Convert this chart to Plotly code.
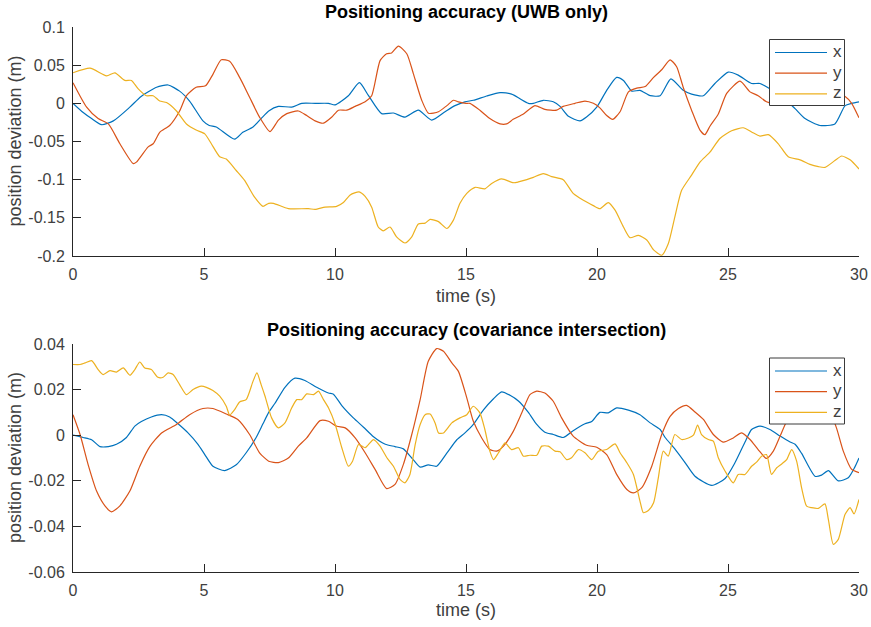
import plotly.graph_objects as go

# ---------------- Top panel: UWB only ----------------
t_x1 = [0, 0.39, 0.71, 1.09, 1.54, 2.17, 2.6, 3.19, 3.63, 4.07, 4.45, 4.96, 5.2, 5.47, 6.17, 6.48, 6.87, 7.18, 7.47,
        7.84, 8.35, 8.73, 9.24, 9.75, 10.0, 10.51, 10.93, 11.28, 11.78, 12.23, 12.67, 13.18, 13.69, 14.2, 14.58, 14.96,
        15.28, 15.79, 16.3, 16.74, 17.06, 17.38, 17.57, 17.95, 18.33, 18.59, 18.91, 19.35, 19.6, 19.99, 20.37, 20.75,
        21.01, 21.33, 21.64, 22.03, 22.41, 22.82, 23.29, 23.61, 24.06, 24.5, 25.01, 25.39, 25.9, 26.22, 26.6, 27.1,
        27.56, 27.94, 28.51, 29.08, 29.47, 29.72, 30.0]
v_x1 = [0, -0.012, -0.02, -0.028, -0.023, -0.005, 0.009, 0.021, 0.024, 0.016, 0.003, -0.023, -0.029, -0.031, -0.047,
        -0.038, -0.031, -0.02, -0.01,
        -0.004, -0.005, 0.0, 0.0, 0.0, -0.002, 0.010, 0.027, 0.010, -0.0135, -0.0127, -0.018, -0.009, -0.022, -0.011,
        -0.003, 0.002,
        0.004, 0.0096, 0.014, 0.012, 0.006, 0.0, 0.0, 0.004, 0.002, -0.004, -0.017, -0.023, -0.018, -0.005, 0.017, 0.034,
        0.030, 0.016, 0.017, 0.010, 0.010, 0.032, 0.017, 0.012, 0.010, 0.026, 0.041, 0.037, 0.026, 0.026, 0.019, 0.008,
        -0.007, -0.020, -0.029, -0.027, -0.003, 0.0, 0.002]

t_y1 = [0, 0.52, 0.96, 1.35, 1.79, 2.3, 2.42, 2.87, 3.06, 3.31, 3.69, 4.07, 4.33, 4.7, 5.06, 5.34, 5.66, 5.98, 6.36,
        6.74, 7.12, 7.52, 7.84, 8.16, 8.6, 8.92, 9.24, 9.56, 9.88, 10.13, 10.45, 10.77, 11.15, 11.4, 11.72, 11.97,
        12.16, 12.42, 12.74, 12.99, 13.31, 13.57, 13.95, 14.27, 14.52, 14.71, 15.0, 15.15, 15.53, 15.91, 16.3, 16.55,
        16.8, 17.19, 17.63, 18.01, 18.46, 18.71, 19.16, 19.54, 19.86, 20.11, 20.37, 20.6, 20.88, 21.2, 21.52, 21.84,
        22.16, 22.47, 22.79, 23.04, 23.29, 23.61, 23.93, 24.12, 24.31, 24.63, 24.95, 25.46, 25.84, 26.15, 26.47,
        27.0, 27.6, 28.2, 28.8, 29.2, 29.47, 29.72, 30.0]
v_y1 = [0.027, -0.005, -0.020, -0.027, -0.053, -0.079, -0.077, -0.057, -0.053, -0.038, -0.029, -0.010, 0.010, 0.021,
        0.023, 0.038, 0.057, 0.055, 0.034, 0.008, -0.018, -0.037, -0.022, -0.0135, -0.010, -0.016, -0.023, -0.026,
        -0.018, -0.009, -0.009, -0.004, 0.002, 0.010, 0.056, 0.065, 0.066, 0.075, 0.065, 0.039, 0.004, -0.013, -0.011,
        -0.003, 0.004, 0.002, 0.0, 0.0, -0.009, -0.020, -0.027, -0.027, -0.021, -0.014, -0.003, -0.008, -0.009, -0.004,
        0.0, 0.003, 0.0, -0.006, -0.016, -0.021, -0.011, 0.015, 0.020, 0.022, 0.034, 0.044, 0.057, 0.048, 0.021,
        -0.009, -0.035, -0.041, -0.030, -0.014, 0.013, 0.029, 0.015, 0.010, 0.002,
        -0.002, 0.001, 0.006, 0.010, 0.012, 0.009, 0.0, -0.019]

t_z1 = [0, 0.65, 1.28, 1.6, 1.98, 2.23, 2.49, 2.8, 3.06, 3.31, 3.57, 3.95, 4.33, 4.7, 5.03, 5.28, 5.6, 5.85, 6.23,
        6.55, 6.93, 7.25, 7.47, 7.65, 8.22, 8.98, 9.24, 9.62, 10.06, 10.32, 10.58, 10.92, 11.15, 11.4, 11.65, 11.84,
        12.1, 12.35, 12.67, 12.93, 13.18, 13.44, 13.63, 13.95, 14.27, 14.52, 14.77, 15.03, 15.35, 15.72, 15.98, 16.36,
        16.81, 17.0, 17.32, 17.57, 17.95, 18.27, 18.71, 19.09, 19.48, 19.86, 20.11, 20.43, 20.69, 21.01, 21.26, 21.58,
        21.9, 22.16, 22.47, 22.72, 22.97, 23.23, 23.61, 23.93, 24.31, 24.69, 25.14, 25.58, 25.9, 26.22, 26.54, 26.92,
        27.3, 27.75, 28.13, 28.45, 28.7, 29.08, 29.34, 29.66, 30.0]
v_z1 = [0.040, 0.046, 0.036, 0.040, 0.030, 0.030, 0.019, 0.010, 0.010, 0.003, 0.001, -0.010, -0.027, -0.035, -0.040,
        -0.053, -0.070, -0.073, -0.088, -0.101, -0.123, -0.135, -0.131, -0.131, -0.138, -0.138, -0.139, -0.136, -0.135,
        -0.130, -0.120, -0.116, -0.122, -0.136, -0.162, -0.167, -0.162, -0.175, -0.183, -0.175, -0.158, -0.157, -0.152,
        -0.155, -0.164, -0.153, -0.131, -0.118, -0.110, -0.112, -0.105, -0.099, -0.104, -0.103, -0.100, -0.097, -0.092,
        -0.096, -0.100, -0.118, -0.127, -0.134, -0.138, -0.130, -0.140, -0.162, -0.176, -0.173, -0.179, -0.192, -0.199,
        -0.184, -0.149, -0.114, -0.094, -0.077, -0.064, -0.046, -0.036, -0.032, -0.0375, -0.043, -0.041, -0.053,
        -0.070, -0.074, -0.080, -0.083, -0.084, -0.075, -0.069, -0.074, -0.086]

# ---------------- Bottom panel: covariance intersection ----------------
t_x2 = [0, 0.39, 0.71, 1.03, 1.35, 1.66, 2.04, 2.36, 2.61, 2.99, 3.38, 3.69, 4.01, 4.39, 4.77, 5.03, 5.34, 5.79, 6.23,
        6.61, 6.99, 7.25, 7.47, 7.71, 8.09, 8.47, 8.85, 9.3, 9.75, 9.94, 10.26, 10.7, 11.09, 11.47, 11.92, 12.29,
        12.61, 12.93, 13.25, 13.56, 13.88, 14.26, 14.65, 14.96, 15.28, 15.66, 16.05, 16.36, 16.68, 17.0, 17.38, 17.7,
        18.01, 18.33, 18.71, 19.09, 19.54, 19.8, 20.11, 20.43, 20.75, 21.2, 21.64, 22.03, 22.41, 22.6, 22.97, 23.36,
        23.74, 24.38, 24.89, 25.27, 25.65, 25.9, 26.22, 26.6, 26.99, 27.37, 27.56, 27.81, 28.32, 28.57, 28.83, 29.21,
        29.59, 29.84, 30.0]
v_x2 = [0, -0.001, -0.002, -0.005, -0.005, -0.004, -0.001, 0.004, 0.006, 0.008, 0.009, 0.008, 0.005, 0.001, -0.004,
        -0.0085, -0.0136, -0.0155, -0.013, -0.0077, -0.001, 0.005, 0.010, 0.014, 0.021, 0.025, 0.024, 0.021, 0.0185,
        0.018, 0.013, 0.0076, 0.0035, -0.0007, -0.004, -0.005, -0.006, -0.010, -0.014, -0.013, -0.0136, -0.008, -0.002,
        0.001, 0.0047, 0.011, 0.016, 0.019, 0.0175, 0.015, 0.010, 0.0047, 0.0013, 0.0003, -0.001, 0.002, 0.005, 0.006,
        0.010, 0.0098, 0.012, 0.011, 0.009, 0.0054, 0.0025, -0.001, -0.006, -0.012, -0.018, -0.022, -0.019, -0.012,
        -0.003, 0.0025, 0.004, 0.0025, -0.0004, -0.003, -0.004, -0.008, -0.018, -0.0175, -0.0155, -0.020, -0.0187,
        -0.014, -0.010]

t_y2 = [0, 0.27, 0.58, 0.9, 1.22, 1.47, 1.79, 2.17, 2.55, 2.93, 3.38, 3.95, 4.45, 4.96, 5.34, 5.85, 6.29, 6.74, 7.12,
        7.47, 7.84, 8.22, 8.6, 8.92, 9.43, 9.75, 10.07, 10.39, 10.77, 11.15, 11.53, 11.97, 12.29, 12.61, 12.93, 13.25,
        13.56, 13.88, 14.14, 14.46, 14.71, 15.03, 15.28, 15.6, 15.91, 16.17, 16.43, 16.81, 17.13, 17.44, 17.7, 18.01,
        18.33, 18.65, 19.09, 19.6, 19.99, 20.37, 20.75, 21.14, 21.39, 21.71, 22.09, 22.47, 22.79, 23.11, 23.42, 23.74,
        24.06, 24.44, 24.82, 25.2, 25.52, 25.84, 26.15, 26.47, 26.73, 26.99, 27.24, 27.6, 28.0, 28.4, 28.8, 29.14,
        29.4, 29.72, 30.0]
v_y2 = [0.009, 0.0003, -0.013, -0.0245, -0.031, -0.0336, -0.031, -0.0245, -0.0136, -0.005, 0.001, 0.0047, 0.009,
        0.0117, 0.0117, 0.0093, 0.0069, 0.0003, -0.0077, -0.0114, -0.012, -0.010, -0.0048, -0.0012, 0.0064, 0.0061,
        0.0039, 0.0032, -0.0012, -0.0077, -0.015, -0.0234, -0.0216, -0.0128, 0.0003, 0.0156, 0.0324, 0.038, 0.0368,
        0.0317, 0.028, 0.0164, 0.0061, -0.0012, -0.0063, -0.007, -0.0048, 0.0018, 0.0098, 0.0178, 0.0193, 0.0185,
        0.0149, 0.0076, -0.0004, -0.0044, -0.0053, -0.0085, -0.0172, -0.0238, -0.0253, -0.023, -0.0136, 0.0003,
        0.0083, 0.0117, 0.0131, 0.0102, 0.0069, 0.0003, -0.003, -0.0012, 0.001, -0.0019, -0.0063, -0.0102, -0.007,
        -0.0004, 0.0061, 0.012, 0.016, 0.017, 0.013, 0.0032, -0.007, -0.015, -0.0164]

t_z2 = [0, 0.27, 0.46, 0.71, 0.96, 1.15, 1.41, 1.66, 1.92, 2.17, 2.36, 2.55, 2.74, 2.99, 3.24, 3.44, 3.63, 3.82, 4.07,
        4.33, 4.58, 4.9, 5.09, 5.34, 5.6, 5.85, 5.98, 6.17, 6.36, 6.61, 6.87, 7.02, 7.18, 7.33, 7.58, 7.84, 8.09, 8.35,
        8.54, 8.73, 8.92, 9.18, 9.37, 9.56, 9.75, 10.01, 10.26, 10.51, 10.67, 10.9, 11.15, 11.47, 11.72, 11.98, 12.23,
        12.48, 12.67, 12.86, 13.06, 13.25, 13.44, 13.63, 13.82, 13.95, 14.14, 14.46, 14.77, 15.03, 15.28, 15.53, 15.72,
        15.91, 16.05, 16.24, 16.49, 16.74, 17.0, 17.19, 17.44, 17.7, 17.89, 18.14, 18.4, 18.59, 18.84, 19.03, 19.29,
        19.54, 19.8, 20.05, 20.37, 20.69, 20.88, 21.14, 21.39, 21.64, 21.77, 21.96, 22.16, 22.34, 22.53, 22.72, 22.97,
        23.23, 23.49, 23.68, 23.84, 23.99, 24.25, 24.44, 24.63, 24.89, 25.2, 25.39, 25.65, 25.9, 26.1, 26.28, 26.47,
        26.66, 26.86, 27.05, 27.24, 27.43, 27.62, 27.81, 28.0, 28.19, 28.45, 28.7, 28.83, 29.02, 29.21, 29.47, 29.66,
        29.81, 30.0]
v_z2 = [0.031, 0.031, 0.0317, 0.0327, 0.0288, 0.0266, 0.0283, 0.0277, 0.0295, 0.0263, 0.0288, 0.0321, 0.0295, 0.0288,
        0.0254, 0.0254, 0.0273, 0.0266, 0.0222, 0.0178, 0.020, 0.0215, 0.021, 0.0196, 0.0171, 0.0127, 0.0088, 0.0112,
        0.0146, 0.0156, 0.0236, 0.0273, 0.0222, 0.0171, 0.0076, 0.0032, 0.0054, 0.012, 0.0156, 0.0156, 0.0181, 0.0178,
        0.0193, 0.0156, 0.012, 0.0047, -0.0055, -0.0136, -0.0114, -0.0041, -0.0055, -0.0019, -0.0048, -0.0099, -0.0136,
        -0.0194, -0.0209, -0.0172, -0.0041, 0.0047, 0.009, 0.0093, 0.0054, 0.001, 0.001, 0.0054, 0.0076, 0.009, 0.0127,
        0.0098, 0.0025, -0.007, -0.0107, -0.0077, -0.0034, -0.0063, -0.0055, -0.0092, -0.0088, -0.0088, -0.0048,
        -0.0048, -0.007, -0.0073, -0.0107, -0.0099, -0.0063, -0.0077, -0.0107, -0.007, -0.0063, -0.0038, -0.0077,
        -0.0121, -0.0172, -0.0289, -0.034, -0.033, -0.0296, -0.0187, -0.007, -0.0092, 0.0003, -0.0019, -0.0012, 0.0,
        0.0044, 0.0003, -0.0019, -0.0026, -0.0099, -0.0158, -0.0209, -0.0172, -0.0172, -0.0136, -0.0117, -0.0092,
        -0.0085, -0.0172, -0.0143, -0.0126, -0.0107, -0.0063, -0.0114, -0.0231, -0.0311, -0.0318, -0.0321, -0.0301,
        -0.0369, -0.0479, -0.0457, -0.0347, -0.0318, -0.0345, -0.0282]

titles = ["Positioning accuracy (UWB only)", "Positioning accuracy (covariance intersection)"]
series_names = ["x", "y", "z"]
colors = ["#0072BD", "#D95319", "#EDB120"]
x_ticks = [0, 5, 10, 15, 20, 25, 30]
y1_ticks = [0.1, 0.05, 0, -0.05, -0.1, -0.15, -0.2]
y1_labels = ["0.1", "0.05", "0", "-0.05", "-0.1", "-0.15", "-0.2"]
y2_ticks = [0.04, 0.02, 0, -0.02, -0.04, -0.06]
y2_labels = ["0.04", "0.02", "0", "-0.02", "-0.04", "-0.06"]

W, H = 871, 627
FONT = "Liberation Sans, Arial, Helvetica, sans-serif"
AX = "#262626"
TXT = "#404040"

fig = go.Figure()
top = [(t_x1, v_x1), (t_y1, v_y1), (t_z1, v_z1)]
bot = [(t_x2, v_x2), (t_y2, v_y2), (t_z2, v_z2)]
for i, (tt, vv) in enumerate(top):
    fig.add_trace(go.Scatter(x=tt, y=vv, mode="lines", name=series_names[i], showlegend=False,
                             line=dict(color=colors[i], width=1.2, shape="spline", smoothing=0.6),
                             xaxis="x", yaxis="y"))
for i, (tt, vv) in enumerate(bot):
    fig.add_trace(go.Scatter(x=tt, y=vv, mode="lines", name=series_names[i], showlegend=False,
                             line=dict(color=colors[i], width=1.2, shape="spline", smoothing=0.6),
                             xaxis="x2", yaxis="y2"))

# plot areas in pixels
L, R = 73, 859
T1, B1 = 27, 256
T2, B2 = 344, 572


def px_x(p):
    return p / W


def px_y(p):
    return 1 - p / H


axis_common = dict(showline=True, linecolor=AX, linewidth=1, ticks="inside", ticklen=8, tickcolor=AX,
                   tickwidth=1, showgrid=False, zeroline=False, mirror=False, automargin=False,
                   ticklabelstandoff=4,
                   tickfont=dict(family=FONT, size=16, color=TXT))

fig.update_layout(
    template="none",
    width=W, height=H, margin=dict(l=0, r=0, t=0, b=0, pad=0),
    paper_bgcolor="white", plot_bgcolor="white",
    showlegend=False,
    xaxis=dict(domain=[px_x(L), px_x(R)], range=[0, 30], tickvals=x_ticks, anchor="y", **axis_common),
    yaxis=dict(domain=[px_y(B1), px_y(T1)], range=[-0.2, 0.1], tickvals=y1_ticks, ticktext=y1_labels,
               anchor="x", **axis_common),
    xaxis2=dict(domain=[px_x(L), px_x(R)], range=[0, 30], tickvals=x_ticks, anchor="y2", **axis_common),
    yaxis2=dict(domain=[px_y(B2), px_y(T2)], range=[-0.06, 0.04], tickvals=y2_ticks, ticktext=y2_labels,
                anchor="x2", **axis_common),
)

ann = []
shapes = []
for title, yc in [(titles[0], 12), (titles[1], 330)]:
    ann.append(dict(text="<b>" + title + "</b>", x=px_x((L + R) / 2), y=px_y(yc), xref="paper", yref="paper",
                    showarrow=False, xanchor="center", yanchor="middle",
                    font=dict(family=FONT, size=18, color="#000000")))
for yc in [296, 610]:
    ann.append(dict(text="time (s)", x=px_x((L + R) / 2), y=px_y(yc), xref="paper", yref="paper",
                    showarrow=False, xanchor="center", yanchor="middle",
                    font=dict(family=FONT, size=18, color=TXT)))
for yc in [(T1 + B1) / 2, (T2 + B2) / 2]:
    ann.append(dict(text="position deviation (m)", x=px_x(15), y=px_y(yc), xref="paper", yref="paper",
                    showarrow=False, xanchor="center", yanchor="middle", textangle=-90,
                    font=dict(family=FONT, size=18, color=TXT)))

# legends (one box per panel)
for top_px in [39.5, 358]:
    shapes.append(dict(type="rect", xref="paper", yref="paper",
                       x0=px_x(769.5), x1=px_x(844.5), y0=px_y(top_px + 66), y1=px_y(top_px),
                       line=dict(color="#3a3a3a", width=1), fillcolor="white", layer="above"))
    for i, name in enumerate(series_names):
        ry = top_px + 13 + i * 20.7
        shapes.append(dict(type="line", xref="paper", yref="paper",
                           x0=px_x(775), x1=px_x(827), y0=px_y(ry), y1=px_y(ry),
                           line=dict(color=colors[i], width=1.2), layer="above"))
        ann.append(dict(text=name, x=px_x(831), y=px_y(ry - 1), xref="paper", yref="paper",
                        showarrow=False, xanchor="left", yanchor="middle",
                        font=dict(family=FONT, size=17, color=TXT)))

fig.update_layout(annotations=ann, shapes=shapes)

fig.write_html("out.html", config={"displayModeBar": False},
               post_script="document.body.style.margin='0';document.body.style.padding='0';"
                           "document.documentElement.style.overflow='hidden';")
